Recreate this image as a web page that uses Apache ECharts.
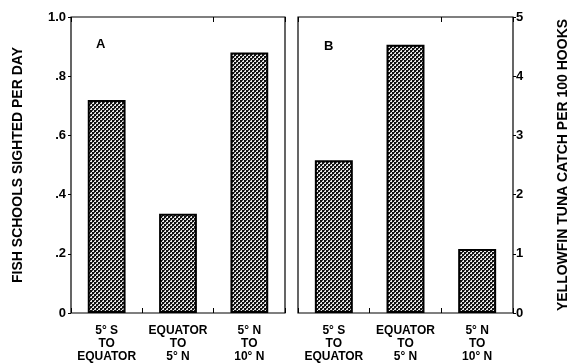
<!DOCTYPE html>
<html>
<head>
<meta charset="utf-8">
<script src="https://cdn.jsdelivr.net/npm/echarts@6/dist/echarts.min.js"></script>
<style>
html,body{margin:0;padding:0;background:#fff;}
#chart{width:575px;height:364px;}
</style>
</head>
<body>
<div id="chart"></div>
<script>
// ---- data ----
var categories = ["5° S\nTO\nEQUATOR", "EQUATOR\nTO\n5° N", "5° N\nTO\n10° N"];
var schoolsPerDay = [0.72, 0.335, 0.88];          // panel A, left axis
var catchPer100Hooks = [2.58, 4.53, 1.08];       // panel B, right axis
var leftTicks = { 0: "0", 0.2: ".2", 0.4: ".4", 0.6: ".6", 0.8: ".8", 1: "1.0" };
var panelLabels = ["A", "B"];
var leftTitle = "FISH SCHOOLS SIGHTED PER DAY";
var rightTitle = "YELLOWFIN TUNA CATCH PER 100 HOOKS";

// ---- hatch pattern ----
function makePattern() {
  var c = document.createElement('canvas');
  c.width = 4; c.height = 4;
  var g = c.getContext('2d');
  g.fillStyle = '#e8e8e8';
  g.fillRect(0, 0, 4, 4);
  g.fillStyle = '#111';
  g.fillRect(0, 0, 2, 2);
  g.fillRect(2, 2, 2, 2);
  g.fillStyle = '#444';
  g.fillRect(2, 0, 1, 1);
  g.fillRect(0, 2, 1, 1);
  return c;
}
var pattern = { image: makePattern(), repeat: 'repeat' };

var FONT = '"Liberation Sans", Arial, sans-serif';
var txt = { color: '#000', fontFamily: FONT, fontWeight: 'bold', fontSize: 12 };

function xBottom(gi) {
  return {
    type: 'category', gridIndex: gi, data: categories, position: 'bottom',
    axisLine: { show: false },
    axisTick: { show: true, inside: true, length: 5, lineStyle: { color: '#000' } },
    axisLabel: Object.assign({ margin: 11, lineHeight: 13, interval: 0 }, txt),
    splitLine: { show: false }
  };
}
function xTop(gi) {
  return {
    type: 'category', gridIndex: gi, data: categories, position: 'top',
    axisLine: { show: false },
    axisTick: { show: true, inside: true, length: 5, lineStyle: { color: '#000' } },
    axisLabel: { show: false },
    splitLine: { show: false }
  };
}

var option = {
  animation: false,
  backgroundColor: '#fff',
  grid: [
    { left: 71, right: 290, top: 17, bottom: 51, show: true, borderColor: '#000', borderWidth: 1.2, backgroundColor: 'transparent' },
    { left: 298, right: 62, top: 17, bottom: 51, show: true, borderColor: '#000', borderWidth: 1.2, backgroundColor: 'transparent' }
  ],
  xAxis: [xBottom(0), xTop(0), xBottom(1), xTop(1)],
  yAxis: [
    {
      type: 'value', gridIndex: 0, position: 'left', min: 0, max: 1, interval: 0.2,
      name: leftTitle, nameLocation: 'middle', nameRotate: 90, nameGap: 46,
      nameTextStyle: { color: '#000', fontFamily: FONT, fontWeight: 'bold', fontSize: 14 },
      axisLine: { show: false },
      axisTick: { show: true, length: 3, lineStyle: { color: '#000' } },
      axisLabel: Object.assign({}, txt, { margin: 5, fontSize: 13, formatter: function (v) { return leftTicks[Math.round(v * 10) / 10]; } }),
      splitLine: { show: false }
    },
    {
      type: 'value', gridIndex: 1, position: 'right', min: 0, max: 5, interval: 1,
      name: rightTitle, nameLocation: 'middle', nameRotate: 90, nameGap: 43,
      nameTextStyle: { color: '#000', fontFamily: FONT, fontWeight: 'bold', fontSize: 14 },
      axisLine: { show: false },
      axisTick: { show: true, length: 3, lineStyle: { color: '#000' } },
      axisLabel: Object.assign({}, txt, { margin: 3, fontSize: 13 }),
      splitLine: { show: false }
    }
  ],
  series: [
    {
      type: 'bar', xAxisIndex: 0, yAxisIndex: 0, data: schoolsPerDay, barWidth: '53%',
      itemStyle: { color: pattern, borderColor: '#000', borderWidth: 2 }
    },
    {
      type: 'bar', xAxisIndex: 2, yAxisIndex: 1, data: catchPer100Hooks, barWidth: '53%',
      itemStyle: { color: pattern, borderColor: '#000', borderWidth: 2 }
    }
  ],
  graphic: [
    { type: 'text', left: 96, top: 38, style: { text: panelLabels[0], fill: '#000', font: 'bold 13px ' + FONT } },
    { type: 'text', left: 324, top: 40, style: { text: panelLabels[1], fill: '#000', font: 'bold 13px ' + FONT } }
  ]
};

var chart = echarts.init(document.getElementById('chart'), null, { renderer: 'canvas' });
chart.setOption(option);
</script>
</body>
</html>
